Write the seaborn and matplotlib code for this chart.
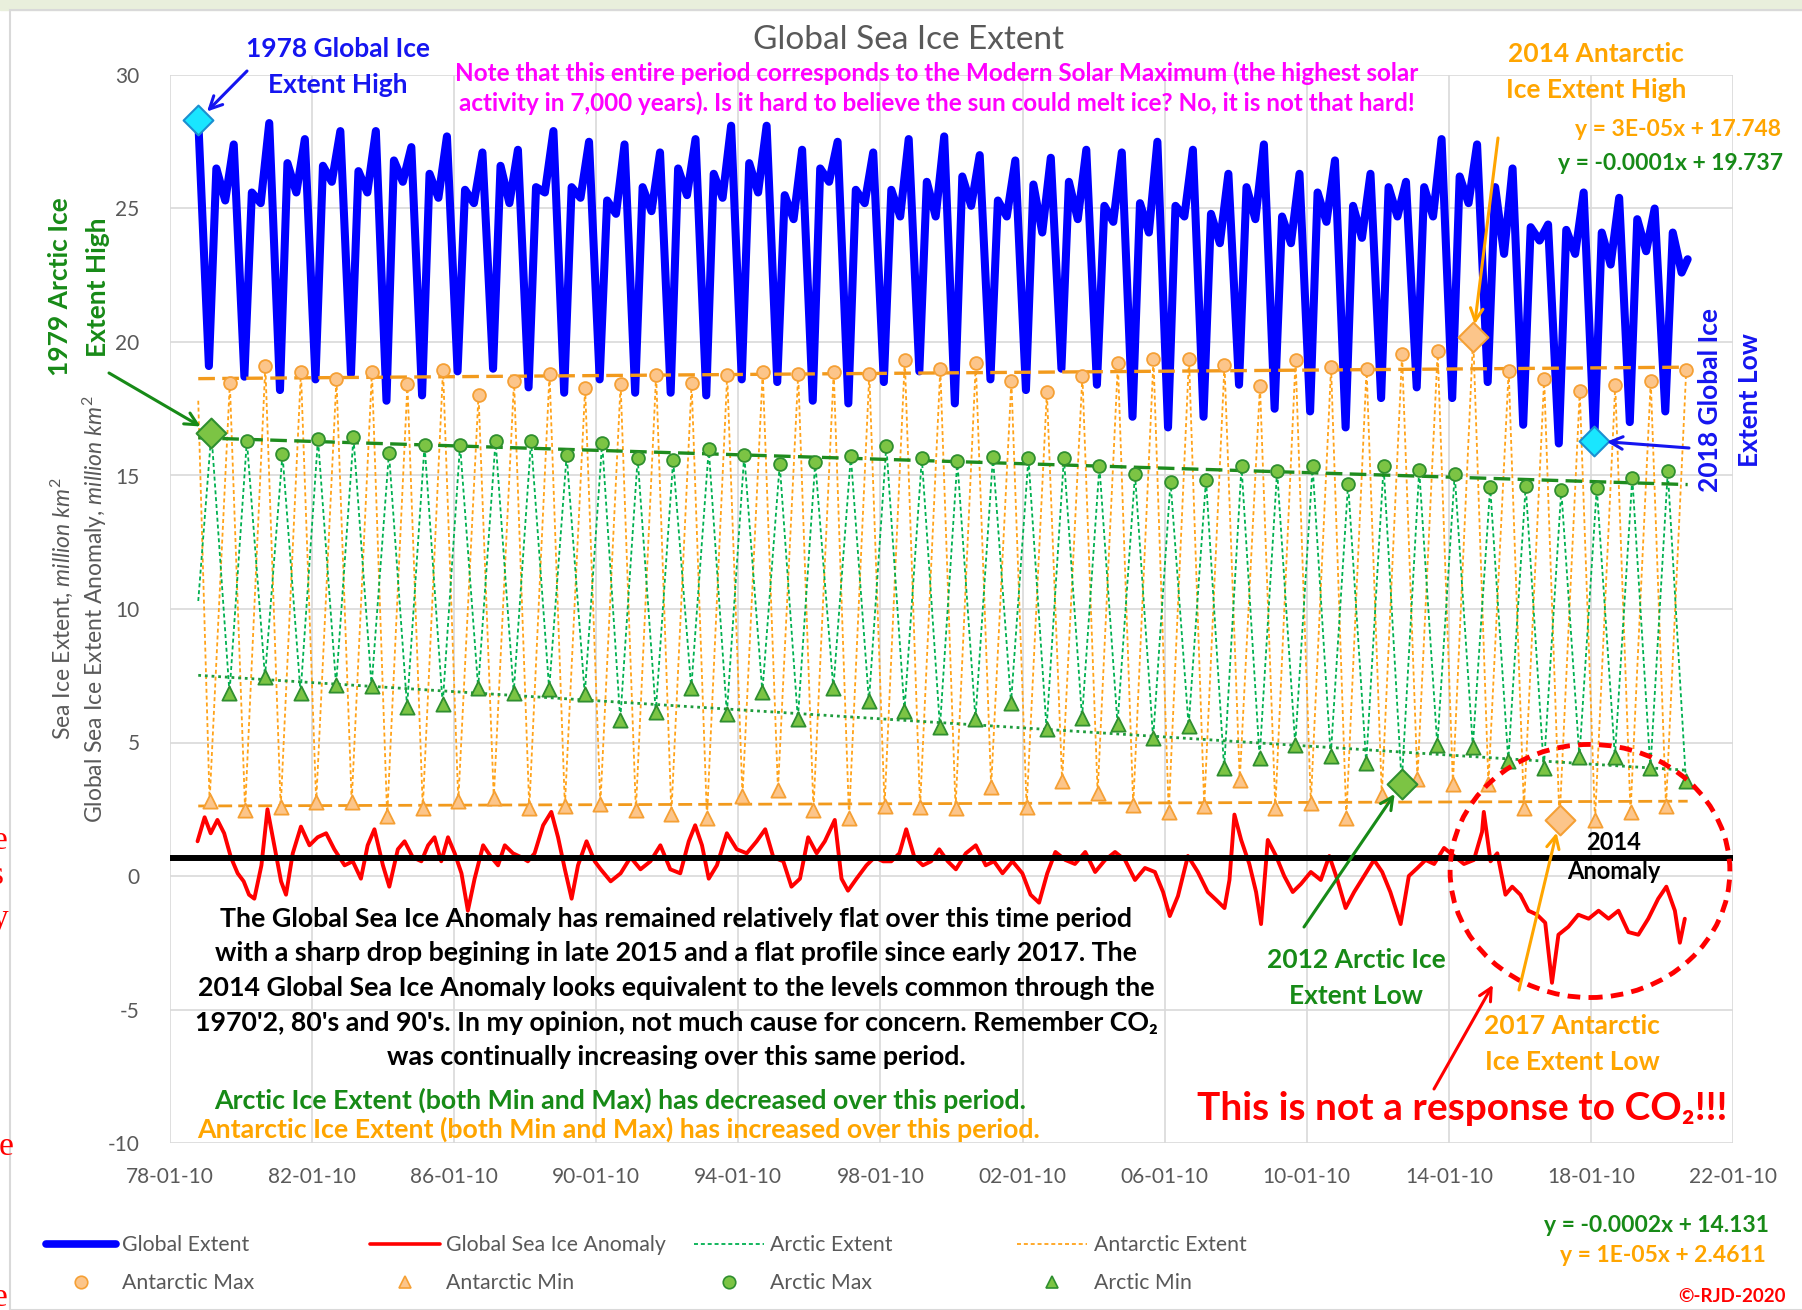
import numpy as np
import pandas as pd
import seaborn as sns
import matplotlib.pyplot as plt
import matplotlib.dates as mdates
from matplotlib.patches import Ellipse, Rectangle
from matplotlib.lines import Line2D

# ---------------- data ----------------
years = list(range(1979, 2021))

# yearly Arctic / Antarctic extremes, million km2
arctic_max = [16.60, 16.31, 15.80, 16.38, 16.43, 15.85, 16.15, 16.15, 16.31, 16.31,
              15.77, 16.23, 15.65, 15.57, 16.00, 15.77, 15.42, 15.49, 15.72, 16.11,
              15.65, 15.54, 15.69, 15.65, 15.66, 15.35, 15.05, 14.77, 14.85, 15.35,
              15.18, 15.35, 14.69, 15.35, 15.20, 15.05, 14.57, 14.62, 14.46, 14.54,
              14.92, 15.15]
arctic_min = [6.85, 7.46, 6.85, 7.15, 7.11, 6.34, 6.43, 7.05, 6.85, 7.00,
              6.80, 5.85, 6.15, 7.03, 6.08, 6.89, 5.88, 7.03, 6.54, 6.18,
              5.57, 5.88, 6.49, 5.51, 5.92, 5.69, 5.15, 5.62, 4.03, 4.43,
              4.92, 4.49, 4.23, 3.46, 4.89, 4.85, 4.31, 4.03, 4.46, 4.46,
              4.03, 3.57]
antarctic_max = [18.46, 19.11, 18.88, 18.62, 18.88, 18.42, 18.97, 18.03, 18.54, 18.82,
                 18.28, 18.42, 18.77, 18.46, 18.77, 18.89, 18.80, 18.88, 18.80, 19.34,
                 19.00, 19.20, 18.54, 18.14, 18.74, 19.20, 19.35, 19.38, 19.15, 18.35,
                 19.34, 19.05, 19.00, 19.54, 19.66, 20.20, 18.92, 18.62, 18.15, 18.38,
                 18.54, 18.97]
antarctic_min = [2.80, 2.46, 2.58, 2.77, 2.77, 2.23, 2.54, 2.80, 2.92, 2.54,
                 2.62, 2.69, 2.46, 2.34, 2.18, 3.00, 3.23, 2.49, 2.18, 2.62,
                 2.58, 2.54, 3.35, 2.58, 3.54, 3.11, 2.65, 2.38, 2.62, 3.58,
                 2.54, 2.74, 2.18, 3.03, 3.62, 3.46, 3.46, 2.54, 2.08, 2.08,
                 2.38, 2.62]

# global extent: Feb low, May shoulder, Aug notch, Oct/Nov high
global_low = [19.1, 18.7, 18.2, 18.6, 18.8, 17.8, 18.0, 18.9, 19.0, 18.3,
              18.1, 18.6, 18.1, 18.1, 18.0, 18.6, 18.5, 17.8, 17.7, 18.5,
              18.9, 17.7, 18.6, 18.2, 19.0, 18.4, 17.2, 16.8, 17.2, 18.4,
              17.5, 17.4, 16.8, 17.9, 18.3, 17.9, 18.5, 16.9, 16.2, 16.3,
              17.0, 17.4]
global_spring = [26.5, 25.6, 26.7, 26.6, 26.4, 26.8, 26.3, 25.7, 26.6, 25.8,
                 25.8, 25.3, 25.8, 26.5, 26.3, 26.7, 25.5, 26.5, 25.7, 25.7,
                 26.0, 26.2, 25.3, 25.9, 26.0, 25.1, 25.2, 25.1, 24.8, 25.8,
                 24.7, 25.6, 25.1, 25.8, 25.8, 26.2, 25.8, 24.3, 24.2, 24.1,
                 24.6, 24.1]
global_summer = [25.3, 25.2, 25.6, 26.0, 25.6, 26.0, 25.4, 25.2, 25.2, 25.6,
                 25.4, 24.8, 24.9, 25.5, 25.4, 25.6, 24.6, 26.0, 25.2, 24.7,
                 24.7, 25.1, 24.7, 24.1, 24.6, 24.5, 24.1, 24.7, 23.7, 24.6,
                 23.7, 24.5, 23.9, 24.7, 24.7, 25.2, 23.3, 23.8, 23.3, 22.9,
                 23.4, 22.6]
global_high = [27.4, 28.2, 27.6, 27.9, 27.9, 27.3, 27.7, 27.1, 27.2, 27.9,
               27.5, 27.4, 27.1, 27.6, 28.1, 28.1, 27.2, 27.5, 27.1, 27.6,
               27.7, 27.0, 26.8, 26.9, 27.2, 27.1, 27.5, 27.2, 26.3, 27.4,
               26.3, 26.8, 26.3, 26.0, 27.6, 27.4, 26.5, 24.4, 25.6, 25.4,
               25.0]
global_start = (1978.82, 28.3)
global_end = (2020.75, 23.1)
arctic_start = (1978.82, 10.3)
antarctic_start = (1978.82, 17.8)

# time of year (fraction) of each reading
AT_GLOBAL = [0.12, 0.33, 0.58, 0.82]
AT_ARC_MAX, AT_ARC_MIN = 0.19, 0.70
AT_ANT_MIN, AT_ANT_MAX = 0.14, 0.71

# global sea ice anomaly
anom_t = [1978.80, 1979.00, 1979.17, 1979.36, 1979.55, 1979.74, 1979.93, 1980.10, 1980.25, 1980.40,
          1980.60, 1980.77, 1980.96, 1981.15, 1981.29, 1981.48, 1981.71, 1981.95, 1982.18, 1982.42,
          1982.65, 1982.94, 1983.17, 1983.40, 1983.59, 1983.78, 1984.02, 1984.20, 1984.44, 1984.63,
          1984.86, 1985.10, 1985.29, 1985.47, 1985.66, 1985.85, 1986.04, 1986.23, 1986.41, 1986.60,
          1986.84, 1987.07, 1987.26, 1987.45, 1987.68, 1987.92, 1988.10, 1988.29, 1988.53, 1988.76,
          1988.95, 1989.14, 1989.33, 1989.51, 1989.75, 1989.98, 1990.15, 1990.43, 1990.71, 1990.99,
          1991.27, 1991.55, 1991.83, 1992.11, 1992.39, 1992.63, 1992.81, 1993.00, 1993.19, 1993.42,
          1993.70, 1993.98, 1994.26, 1994.54, 1994.78, 1995.01, 1995.29, 1995.52, 1995.76, 1995.99,
          1996.23, 1996.46, 1996.74, 1996.93, 1997.11, 1997.35, 1997.63, 1997.86, 1998.10, 1998.33,
          1998.56, 1998.75, 1998.98, 1999.22, 1999.45, 1999.68, 1999.92, 2000.15, 2000.43, 2000.71,
          2000.99, 2001.22, 2001.46, 2001.74, 2002.02, 2002.25, 2002.49, 2002.72, 2002.95, 2003.23,
          2003.50, 2003.79, 2004.07, 2004.35, 2004.63, 2004.91, 2005.19, 2005.47, 2005.75, 2005.98,
          2006.17, 2006.40, 2006.68, 2006.96, 2007.24, 2007.48, 2007.71, 2007.85, 2007.99, 2008.18,
          2008.41, 2008.60, 2008.74, 2008.93, 2009.16, 2009.39, 2009.63, 2009.86, 2010.14, 2010.42,
          2010.66, 2010.89, 2011.12, 2011.36, 2011.64, 2011.92, 2012.15, 2012.38, 2012.67, 2012.90,
          2013.14, 2013.37, 2013.61, 2013.89, 2014.17, 2014.45, 2014.73, 2014.96, 2015.01, 2015.20,
          2015.39, 2015.62, 2015.81, 2016.04, 2016.27, 2016.51, 2016.74, 2016.93, 2017.11, 2017.39,
          2017.67, 2017.96, 2018.24, 2018.52, 2018.80, 2019.08, 2019.36, 2019.64, 2019.92, 2020.15,
          2020.39, 2020.53, 2020.67]
anom_v = [1.30, 2.20, 1.60, 2.10, 1.60, 0.70, 0.10, -0.20, -0.70, -0.85,
          0.40, 2.50, 1.15, -0.20, -0.70, 0.85, 1.85, 1.15, 1.45, 1.60,
          1.00, 0.40, 0.55, -0.10, 1.15, 1.75, 0.40, -0.40, 1.00, 1.30,
          0.70, 0.55, 1.15, 1.45, 0.55, 1.45, 0.85, 0.10, -1.30, -0.10,
          1.15, 0.70, 0.40, 1.15, 0.85, 0.70, 0.55, 0.85, 1.90, 2.40,
          1.45, 0.25, -0.85, 0.40, 1.30, 0.55, 0.25, -0.20, 0.10, 0.70,
          0.25, 0.55, 1.15, 0.25, 0.10, 1.30, 1.90, 1.15, -0.10, 0.40,
          1.60, 1.00, 0.85, 1.30, 1.75, 0.70, 0.55, -0.40, -0.10, 1.45,
          0.85, 1.30, 2.10, -0.10, -0.55, -0.10, 0.40, 0.70, 0.55, 0.55,
          0.85, 1.75, 0.70, 0.40, 0.55, 1.00, 0.55, 0.25, 0.85, 1.15,
          0.40, 0.55, 0.10, 0.55, 0.10, -0.70, -1.00, 0.10, 0.90, 0.60,
          0.45, 0.90, 0.15, 0.60, 0.90, 0.60, -0.15, 0.30, 0.15, -0.60,
          -1.50, -0.75, 0.75, 0.15, -0.60, -0.90, -1.20, -0.15, 2.30, 1.35,
          0.45, -0.60, -1.80, 1.35, 0.75, 0.00, -0.60, -0.30, 0.15, -0.15,
          0.75, -0.15, -1.20, -0.60, 0.00, 0.60, 0.15, -0.60, -1.80, 0.00,
          0.30, 0.60, 0.45, 1.05, 0.75, 0.45, 0.60, 1.65, 2.40, 0.55,
          0.85, -0.70, -0.40, -0.70, -1.30, -1.45, -1.75, -4.00, -2.20, -1.90,
          -1.45, -1.60, -1.30, -1.60, -1.30, -2.10, -2.20, -1.60, -0.85, -0.40,
          -1.30, -2.50, -1.60]
anomaly_2014 = 0.66

tick_years = list(range(1978, 2023, 4))
y_ticks = list(range(-10, 31, 5))

# ---------------- helpers ----------------
W, H = 1802, 1310


def fx(px):
    return px / W


def fy(py):
    return 1 - py / H


def to_num(ts):
    out = []
    for t in ts:
        yr = int(np.floor(t))
        d = pd.Timestamp(yr, 1, 1) + pd.Timedelta(days=(t - yr) * 365.25)
        out.append(mdates.date2num(d.to_pydatetime()))
    return np.array(out)


# assemble the series in time order
g_t, g_v = [global_start[0]], [global_start[1]]
for i, y in enumerate(years):
    g_t += [y + AT_GLOBAL[0], y + AT_GLOBAL[1], y + AT_GLOBAL[2]]
    g_v += [global_low[i], global_spring[i], global_summer[i]]
    if i < len(global_high):
        g_t.append(y + AT_GLOBAL[3])
        g_v.append(global_high[i])
g_t.append(global_end[0])
g_v.append(global_end[1])

arc_t, arc_v = [arctic_start[0]], [arctic_start[1]]
ant_t, ant_v = [antarctic_start[0]], [antarctic_start[1]]
for i, y in enumerate(years):
    arc_t += [y + AT_ARC_MAX, y + AT_ARC_MIN]
    arc_v += [arctic_max[i], arctic_min[i]]
    ant_t += [y + AT_ANT_MIN, y + AT_ANT_MAX]
    ant_v += [antarctic_min[i], antarctic_max[i]]

t_arc_max = to_num([y + AT_ARC_MAX for y in years])
t_arc_min = to_num([y + AT_ARC_MIN for y in years])
t_ant_max = to_num([y + AT_ANT_MAX for y in years])
t_ant_min = to_num([y + AT_ANT_MIN for y in years])

# ---------------- style ----------------
sns.set_style("white")
plt.rcParams['font.family'] = ['Lato', 'DejaVu Sans']
plt.rcParams['mathtext.fontset'] = 'custom'
plt.rcParams['mathtext.rm'] = 'Lato'
plt.rcParams['mathtext.it'] = 'Lato:italic'
plt.rcParams['mathtext.bf'] = 'Lato:bold'
plt.rcParams['axes.unicode_minus'] = False

GRAY = '#595959'
BLUE = '#0000ff'
RED = '#ff0000'
GREEN_LINE = '#00b050'
ORANGE_LINE = '#ffa31a'
GREEN_TXT = '#178a17'
ORANGE_TXT = '#ffa500'
ANT_FACE, ANT_EDGE = '#fcc58a', '#f5a035'
ARC_FACE, ARC_EDGE = '#7cc444', '#2f8f2f'

fig = plt.figure(figsize=(W / 100, H / 100), dpi=100)
fig.patches.append(Rectangle((0, fy(10)), 1, 10 / H, transform=fig.transFigure,
                             color='#e9efdc', zorder=0))
fig.patches.append(Rectangle((fx(10), 0), 1, fy(10), transform=fig.transFigure,
                             fill=False, ec='#d9d9d9', lw=1.5, zorder=0))

ax = fig.add_axes([fx(170), fy(1143), (1733 - 170) / W, (1143 - 75) / H])

# ---------------- series ----------------
sns.lineplot(x=to_num(g_t), y=g_v, ax=ax, color=BLUE, lw=5.8, estimator=None,
             sort=False, zorder=2)
sns.lineplot(x=to_num(ant_t), y=ant_v, ax=ax, color=ORANGE_LINE, lw=1.3,
             estimator=None, sort=False, zorder=3, linestyle=(0, (2.2, 1.6)))
sns.lineplot(x=to_num(arc_t), y=arc_v, ax=ax, color=GREEN_LINE, lw=1.3,
             estimator=None, sort=False, zorder=3, linestyle=(0, (2.2, 1.6)))
sns.lineplot(x=to_num(anom_t), y=anom_v, ax=ax, color=RED, lw=2.8,
             estimator=None, sort=False, zorder=4)

ax.axhline(anomaly_2014, color='black', lw=4.3, zorder=5)

# linear trends over the record
span = to_num([g_t[0], g_t[-1]])
for tt, vals, col, ls, lw in [
        (t_ant_max, antarctic_max, '#f29a1c', (0, (5, 2.2)), 2.4),
        (t_arc_max, arctic_max, '#1e8c1e', (0, (5, 2.2)), 2.4),
        (t_arc_min, arctic_min, '#1e9c3c', (0, (1, 1.4)), 2.0),
        (t_ant_min, antarctic_min, '#f29a1c', (0, (5, 2.2)), 2.0)]:
    k, b = np.polyfit(tt, vals, 1)
    ax.plot(span, k * span + b, color=col, ls=ls, lw=lw, zorder=6)

# yearly markers
mk = dict(ax=ax, legend=False, zorder=7, linewidth=1.3)
sns.scatterplot(x=t_ant_max, y=antarctic_max, marker='o', s=85, color=ANT_FACE, edgecolor=ANT_EDGE, **mk)
sns.scatterplot(x=t_ant_min, y=antarctic_min, marker='^', s=105, color=ANT_FACE, edgecolor=ANT_EDGE, **mk)
sns.scatterplot(x=t_arc_max, y=arctic_max, marker='o', s=85, color=ARC_FACE, edgecolor=ARC_EDGE, **mk)
sns.scatterplot(x=t_arc_min, y=arctic_min, marker='^', s=105, color=ARC_FACE, edgecolor=ARC_EDGE, **mk)

# highlighted records
i18 = years.index(2018)
i79 = years.index(1979)
i14 = years.index(2014)
i12 = years.index(2012)
i17 = years.index(2017)
dm = dict(ax=ax, legend=False, zorder=8, marker='D', s=230, linewidth=1.5)
sns.scatterplot(x=to_num([global_start[0], 2018 + AT_GLOBAL[0]]),
                y=[global_start[1], global_low[i18]], color='#19e6ff', edgecolor='#1a8fd0', **dm)
sns.scatterplot(x=[t_arc_max[i79], t_arc_min[i12]], y=[arctic_max[i79], arctic_min[i12]],
                color=ARC_FACE, edgecolor=ARC_EDGE, **dm)
sns.scatterplot(x=[t_ant_max[i14], t_ant_min[i17]], y=[antarctic_max[i14], antarctic_min[i17]],
                color=ANT_FACE, edgecolor=ANT_EDGE, **dm)

# ---------------- axes ----------------
ax.set_xlim(mdates.date2num(pd.Timestamp(1978, 1, 10)), mdates.date2num(pd.Timestamp(2022, 1, 10)))
ax.set_ylim(-10, 30)
ax.set_xticks([mdates.date2num(pd.Timestamp(y, 1, 10)) for y in tick_years])
ax.xaxis.set_major_formatter(mdates.DateFormatter('%y-%m-%d'))
ax.set_yticks(y_ticks)
ax.grid(True, color='#d9d9d9', lw=1.2)
ax.set_axisbelow(True)
for s in ax.spines.values():
    s.set_visible(False)
ax.tick_params(length=0, labelsize=15, labelcolor=GRAY)
ax.tick_params(axis='x', pad=17)
ax.tick_params(axis='y', pad=22)
ax.set_xlabel('')
ax.set_ylabel('')

# ellipse around the post-2016 anomaly
ax.add_patch(Ellipse((0.9085, 0.2547), 0.179, 0.237, transform=ax.transAxes, fill=False,
                     ec=RED, lw=3.5, ls=(0, (2.6, 1.7)), zorder=9, clip_on=False))

# ---------------- texts ----------------
fig.text(fx(908), fy(40), 'Global Sea Ice Extent', ha='center', va='center', size=24, color=GRAY)
fig.text(fx(79), fy(609),
         'Sea Ice Extent, $\\it{million\\ km^2}$\nGlobal Sea Ice Extent Anomaly, $\\it{million\\ km^2}$',
         rotation=90, ha='center', va='center', multialignment='center', size=16.5, color=GRAY,
         linespacing=1.26)

lbl = dict(ha='center', va='center', weight='bold', size=19, linespacing=1.62)
fig.text(fx(338), fy(67), '1978 Global Ice\nExtent High', color='#1515f0', **lbl)
fig.text(fx(1596), fy(72), '2014 Antarctic\nIce Extent High', color=ORANGE_TXT, **lbl)
fig.text(fx(1356), fy(978), '2012 Arctic Ice\nExtent Low', color=GREEN_TXT, **lbl)
fig.text(fx(1572), fy(1044), '2017 Antarctic\nIce Extent Low', color=ORANGE_TXT, **lbl)
rot = dict(lbl, linespacing=1.75, rotation=90)
fig.text(fx(79), fy(287), '1979 Arctic Ice\nExtent High', color=GREEN_TXT, **rot)
fig.text(fx(1730), fy(400), '2018 Global Ice\nExtent Low', color='#1515f0', **rot)
fig.text(fx(1614), fy(857), '2014\nAnomaly', ha='center', va='center', weight='bold', size=17,
         linespacing=1.3, color='black')

fig.text(fx(937), fy(88),
         'Note that this entire period corresponds to the Modern Solar Maximum (the highest solar\n'
         'activity in 7,000 years). Is it hard to believe the sun could melt ice? No, it is not that hard!',
         ha='center', va='center', weight='bold', size=17.5, color='#ff00ff', linespacing=1.3)

eq = dict(ha='right', va='center', weight='bold', size=16.5)
fig.text(fx(1781), fy(130), 'y = 3E-05x + 17.748', color=ORANGE_TXT, **eq)
fig.text(fx(1783), fy(164), 'y = -0.0001x + 19.737', color=GREEN_TXT, **eq)
fig.text(fx(1769), fy(1225), 'y = -0.0002x + 14.131', color=GREEN_TXT, **eq)
fig.text(fx(1766), fy(1256), 'y = 1E-05x + 2.4611', color=ORANGE_TXT, **eq)
fig.text(fx(1786), fy(1296), '\u00a9-RJD-2020', ha='right', va='center', weight='bold',
         size=13.5, color=RED)

fig.text(fx(676), fy(988),
         "The Global Sea Ice Anomaly has remained relatively flat over this time period\n"
         "with a sharp drop begining in late 2015 and a flat profile since early 2017. The\n"
         "2014 Global Sea Ice Anomaly looks equivalent to the levels common through the\n"
         "1970'2, 80's and 90's. In my opinion, not much cause for concern. Remember CO\u2082\n"
         "was continually increasing over this same period.",
         ha='center', va='center', multialignment='center', weight='bold', size=19.3,
         color='black', linespacing=1.53)
fig.text(fx(620), fy(1100), 'Arctic Ice Extent (both Min and Max) has decreased over this period.',
         ha='center', va='center', weight='bold', size=19.3, color=GREEN_TXT)
fig.text(fx(619), fy(1129), 'Antarctic Ice Extent (both Min and Max) has increased over this period.',
         ha='center', va='center', weight='bold', size=19.3, color=ORANGE_TXT)
fig.text(fx(1462), fy(1108), 'This is not a response to CO\u2082!!!', ha='center', va='center',
         weight='bold', size=28, color=RED)

# red serif fragments cut at the left edge of the screenshot
for ch, px, py in [('e', 8, 841), ('s', 4, 876), ('y', 8, 919), ('re', 14, 1147), ('e', 8, 1298)]:
    fig.text(fx(px), fy(py), ch, ha='right', va='center', size=24, color=RED,
             family='Liberation Serif')

# ---------------- arrows ----------------
def arrow(xy, xytext, color, xycoords='data'):
    ax.annotate('', xy=xy, xycoords=xycoords, xytext=xytext, textcoords='figure pixels',
                arrowprops=dict(arrowstyle='->,head_length=0.9,head_width=0.45', color=color,
                                lw=2.2, shrinkA=0, shrinkB=9), zorder=10)


arrow((to_num([global_start[0]])[0], global_start[1]), (247, H - 71), '#1515f0')
arrow((t_arc_max[i79], arctic_max[i79]), (109, H - 373), GREEN_TXT)
arrow((t_ant_max[i14], antarctic_max[i14]), (1498, H - 138), ORANGE_TXT)
arrow((to_num([2018 + AT_GLOBAL[0]])[0], global_low[i18]), (1689, H - 448), '#1515f0')
arrow((t_arc_min[i12], arctic_min[i12]), (1304, H - 927), GREEN_TXT)
arrow((t_ant_min[i17], antarctic_min[i17]), (1519, H - 990), ORANGE_TXT)
arrow((1499, H - 974), (1434, H - 1089), RED, xycoords='figure pixels')

# ---------------- legend ----------------
def lg(handles, labels, px):
    leg = fig.legend(handles, labels, loc='center left', bbox_to_anchor=(fx(px), fy(1264)),
                     frameon=False, fontsize=15.3, handlelength=3.3, handletextpad=0.3,
                     labelspacing=0.85, borderpad=0, borderaxespad=0)
    for t in leg.get_texts():
        t.set_color(GRAY)


def mk_h(marker, face, edge):
    return Line2D([], [], ls='none', marker=marker, ms=9, mfc=face, mec=edge, mew=1.2)


lg([Line2D([], [], color=BLUE, lw=5.5), mk_h('o', ANT_FACE, ANT_EDGE)],
   ['Global Extent', 'Antarctic Max'], 46)
lg([Line2D([], [], color=RED, lw=2.6), mk_h('^', ANT_FACE, ANT_EDGE)],
   ['Global Sea Ice Anomaly', 'Antarctic Min'], 370)
lg([Line2D([], [], color=GREEN_LINE, lw=1.3, ls=(0, (2.2, 1.6))), mk_h('o', ARC_FACE, ARC_EDGE)],
   ['Arctic Extent', 'Arctic Max'], 694)
lg([Line2D([], [], color=ORANGE_LINE, lw=1.3, ls=(0, (2.2, 1.6))), mk_h('^', ARC_FACE, ARC_EDGE)],
   ['Antarctic Extent', 'Arctic Min'], 1017)

fig.savefig('out.png', dpi=100)
